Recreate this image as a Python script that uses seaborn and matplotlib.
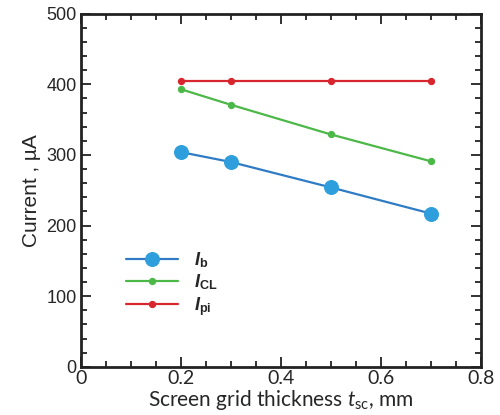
import matplotlib
matplotlib.use("Agg")
import matplotlib.pyplot as plt
import seaborn as sns
import pandas as pd
from matplotlib.ticker import MultipleLocator

# Screen grid thickness (mm) and currents (uA)
thickness = [0.2, 0.3, 0.5, 0.7]
i_b = [304, 290, 254, 217]
i_cl = [393, 371, 329, 291]
i_pi = [405, 405, 405, 405]

series_names = ["b", "CL", "pi"]
series_colors = ["#2e9fdc", "#4bb848", "#d7262e"]
series_sizes = [10, 4.5, 4.5]
line_colors = ["#2f7cc4", "#4bb848", "#d7262e"]

df = pd.DataFrame({
    "t": thickness * 3,
    "I": i_b + i_cl + i_pi,
    "series": sum([[n] * len(thickness) for n in series_names], []),
})

sns.set_style("ticks")
plt.rcParams["font.family"] = ["Liberation Sans", "DejaVu Sans"]
plt.rcParams["mathtext.fontset"] = "custom"
plt.rcParams["mathtext.rm"] = "Lato"
plt.rcParams["mathtext.it"] = "Lato:italic"
plt.rcParams["mathtext.bf"] = "Liberation Sans:bold"
plt.rcParams["mathtext.bfit"] = "Liberation Sans:bold:italic"

ARIAL = ["Liberation Sans", "DejaVu Sans"]
CALIBRI = ["Lato", "DejaVu Sans"]

fig = plt.figure(figsize=(5, 4.15), dpi=100)
ax = fig.add_axes([0.162, 0.116, 0.8, 0.851])

for name, mc, lc, ms in zip(series_names, series_colors, line_colors, series_sizes):
    sub = df[df["series"] == name]
    sns.lineplot(data=sub, x="t", y="I", ax=ax, color=lc, lw=1.6,
                 marker="o", markersize=ms, markerfacecolor=mc,
                 markeredgecolor=mc,
                 label=r"$\mathbfit{I}_{\mathbf{%s}}$" % name)

ax.set_xlim(0, 0.8)
ax.set_ylim(0, 500)
ax.xaxis.set_major_locator(MultipleLocator(0.2))
ax.xaxis.set_minor_locator(MultipleLocator(0.05))
ax.yaxis.set_major_locator(MultipleLocator(100))
ax.yaxis.set_minor_locator(MultipleLocator(20))
ax.tick_params(which="both", direction="in", top=True, right=True, width=1.3, color="#222222")
ax.tick_params(which="major", length=7)
ax.tick_params(which="minor", length=4)
for s in ax.spines.values():
    s.set_linewidth(2)
    s.set_color("#222222")

ax.set_xticks([0, 0.2, 0.4, 0.6, 0.8])
ax.set_xticklabels(["0", "0.2", "0.4", "0.6", "0.8"], fontsize=14, family=CALIBRI)
ax.set_yticks([0, 100, 200, 300, 400, 500])
ax.set_yticklabels(["0", "100", "200", "300", "400", "500"], fontsize=13, family=ARIAL)
ax.tick_params(axis="x", pad=2)
ax.tick_params(axis="y", pad=3)

ax.set_xlabel(r"Screen grid thickness $t_{\mathregular{sc}}$, mm", fontsize=15,
              family=CALIBRI, labelpad=1)
ax.set_ylabel("Current , µA", fontsize=15, labelpad=4, family=ARIAL)

leg = ax.legend(loc="upper left", bbox_to_anchor=(0.112, 0.33), frameon=False,
                fontsize=13, handlelength=2.9, labelspacing=0.15, handletextpad=0.9,
                borderpad=0, borderaxespad=0)

fig.savefig("out.png", dpi=100)
